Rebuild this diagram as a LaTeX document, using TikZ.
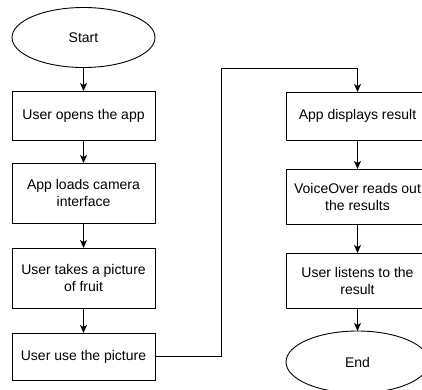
\documentclass[tikz,border=0pt]{standalone}
\usepackage{fontspec}
\setmainfont{Liberation Sans}
\usetikzlibrary{shapes.geometric,arrows.meta}
\begin{document}
\begin{tikzpicture}[x=1pt,y=-1pt,
  every node/.style={font=\fontsize{14}{17}\selectfont, align=center,
    draw=black, line width=0.9pt, fill=white, inner sep=0pt, outer sep=0pt},
  stepbox/.style={rectangle, minimum width=143pt},
  terminal/.style={ellipse, minimum width=143pt, minimum height=60pt},
  flow/.style={draw=black, line width=0.9pt, -{Stealth[length=8pt,width=7pt,inset=2pt]}}]
  \clip (0,0) rectangle (422,389);
  \fill[white] (0,0) rectangle (422,389);

  % left column
  \node[terminal] (start) at (83.5,37.5) {Start};
  \node[stepbox, minimum height=49pt] (open) at (83.5,115.5) {User opens the app};
  \node[stepbox, minimum height=60pt] (load) at (83.5,193) {App loads camera\\interface};
  \node[stepbox, minimum height=60pt] (take) at (83.5,278) {User takes a picture\\of fruit};
  \node[stepbox, minimum height=47pt] (use) at (83.5,356.5) {User use the picture};

  % right column
  \node[stepbox, minimum height=48pt] (show) at (357.5,116) {App displays result};
  \node[stepbox, minimum height=55pt] (read) at (357.5,196.5) {VoiceOver reads out\\the results};
  \node[stepbox, minimum height=55pt] (listen) at (357.5,280.5) {User listens to the\\result};
  \node[terminal, minimum height=62pt] (end) at (357.5,362) {End};

  \coordinate (turn) at (221,68);

  \draw[flow] (start) -- (open);
  \draw[flow] (open) -- (load);
  \draw[flow] (load) -- (take);
  \draw[flow] (take) -- (use);
  \draw[flow] (use.east) -| (turn) -| (show.north);
  \draw[flow] (show) -- (read);
  \draw[flow] (read) -- (listen);
  \draw[flow] (listen) -- (end);
\end{tikzpicture}
\end{document}
